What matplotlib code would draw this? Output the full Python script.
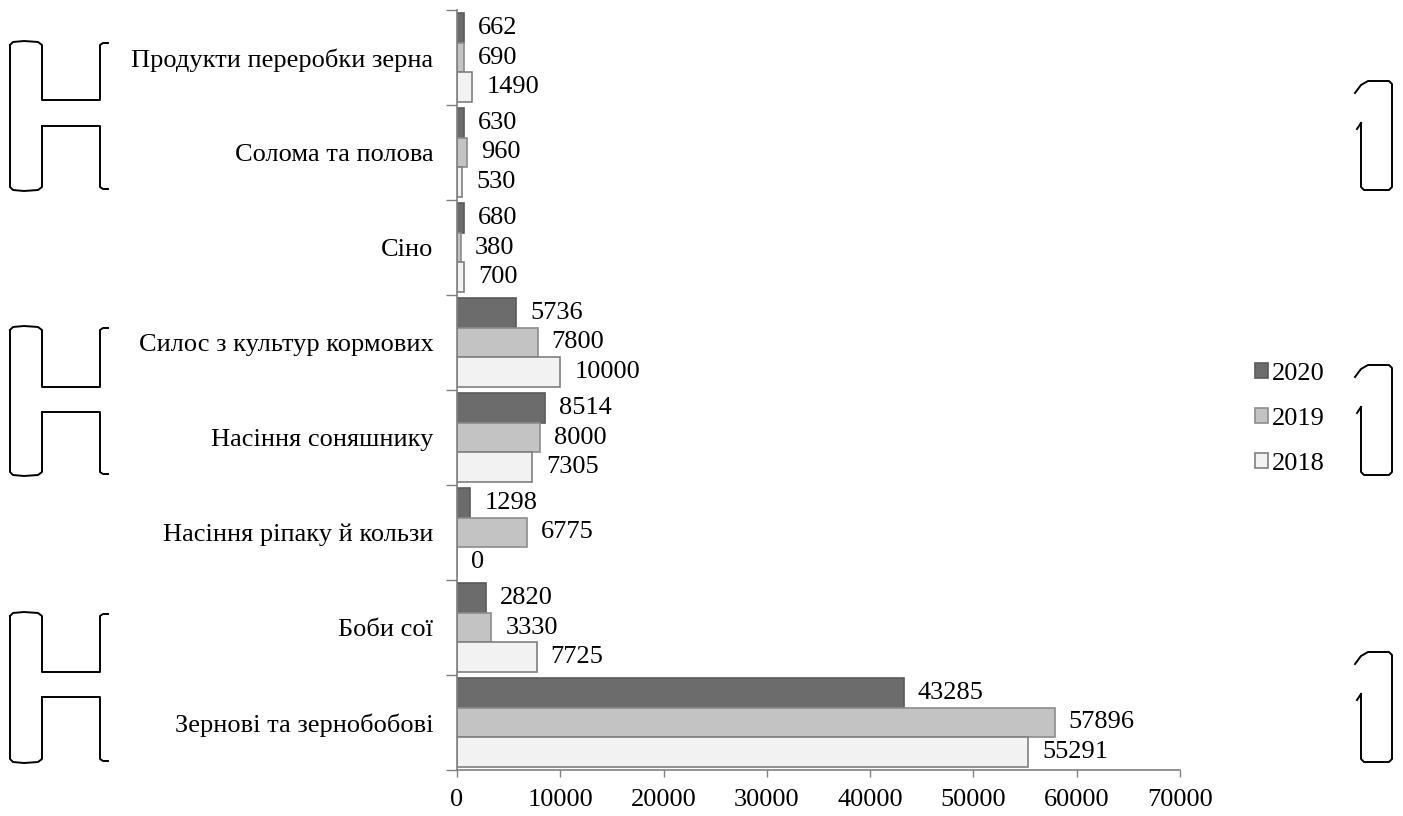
import matplotlib
matplotlib.use("Agg")
import matplotlib.pyplot as plt
import numpy as np
from matplotlib.lines import Line2D
from matplotlib.patches import Patch

plt.rcParams['font.family'] = ['Liberation Serif', 'DejaVu Serif']

# Categories listed bottom to top
categories = [
    "Зернові та зернобобові",
    "Боби сої",
    "Насіння ріпаку й кользи",
    "Насіння соняшнику",
    "Силос з культур кормових",
    "Сіно",
    "Солома та полова",
    "Продукти переробки зерна",
]
years = ["2020", "2019", "2018"]
values_2020 = [43285, 2820, 1298, 8514, 5736, 680, 630, 662]
values_2019 = [57896, 3330, 6775, 8000, 7800, 380, 960, 690]
values_2018 = [55291, 7725, 0, 7305, 10000, 700, 530, 1490]
x_ticks = [0, 10000, 20000, 30000, 40000, 50000, 60000, 70000]

W, H = 1403, 816
fig = plt.figure(figsize=(W / 100, H / 100), dpi=100)
ax = fig.add_axes([457 / W, 1 - 770 / H, (1180 - 457) / W, (770 - 10) / H])

y = np.arange(len(categories))
h = 0.313
series = [
    (values_2020, y + h, "#6c6c6c", "#5a5a5a"),
    (values_2019, y, "#c3c3c3", "#8c8c8c"),
    (values_2018, y - h, "#f2f2f2", "#7f7f7f"),
]
fs = 19
for vals, pos, fc, ec in series:
    bars = ax.barh(pos, vals, height=h, color=fc, edgecolor=ec, linewidth=1.2)
    ax.bar_label(bars, labels=[str(v) for v in vals], padding=10, fontsize=fs)

ax.set_xlim(0, 70000)
ax.set_ylim(-0.5, len(categories) - 0.5)
ax.set_xticks(x_ticks)
ax.set_xticklabels([str(t) for t in x_ticks], fontsize=fs)
ax.tick_params(axis='x', length=5, width=1, color="#808080", pad=9)

# Tick marks at group boundaries, labels at group centres
ax.set_yticks(np.arange(-0.5, len(categories), 1.0))
ax.set_yticklabels([])
ax.tick_params(axis='y', which='major', length=8, width=1, color="#808080")
ax.set_yticks(y, minor=True)
ax.set_yticklabels(categories, minor=True, fontsize=fs)
ax.tick_params(axis='y', which='minor', length=0, pad=17)

for s in ("top", "right"):
    ax.spines[s].set_visible(False)
for s in ("left", "bottom"):
    ax.spines[s].set_color("#808080")
    ax.spines[s].set_linewidth(1.2)

handles = [Patch(facecolor=c, edgecolor=e, linewidth=1.2) for _, _, c, e in series]
fig.legend(handles, years, loc="center left", bbox_to_anchor=(1255 / W, 1 - 419 / H),
           frameon=False, fontsize=fs, handlelength=0.5, handleheight=0.5,
           handletextpad=0.15, labelspacing=0.87, borderpad=0, borderaxespad=0)


# Decorative bracket frames in the margins (pixel coordinates)
def px(points):
    xs = [p[0] / W for p in points]
    ys = [1 - p[1] / H for p in points]
    return xs, ys


def draw(points):
    xs, ys = px(points)
    fig.add_artist(Line2D(xs, ys, color="black", linewidth=1.4,
                          transform=fig.transFigure, solid_joinstyle="round"))


def left_frame(y0, ya, yb, y1):
    draw([(10, y0 + 3), (13, y0), (24, y0 - 1), (38, y0), (42, y0 + 3),
          (42, ya), (100, ya), (100, y0 + 3), (103, y0 + 1), (108, y0 + 1)])
    draw([(42, yb), (100, yb), (100, y1 - 3), (103, y1 - 1), (108, y1 - 1)])
    draw([(42, yb), (42, y1 - 3), (38, y1), (24, y1 + 1), (13, y1), (10, y1 - 3),
          (10, y0 + 3)])


def right_frame(yt, yb):
    draw([(1355, yt + 12), (1361, yt + 4), (1368, yt), (1389, yt), (1392, yt + 3),
          (1392, yb - 3), (1389, yb), (1364, yb), (1361, yb - 3), (1361, yt + 42)])
    draw([(1357, yt + 48), (1361, yt + 42)])


left_frame(42, 100, 126, 190)
left_frame(327, 387, 412, 475)
left_frame(613, 672, 697, 762)
right_frame(81, 190)
right_frame(365, 475)
right_frame(652, 762)

fig.savefig("out.png", dpi=100)
